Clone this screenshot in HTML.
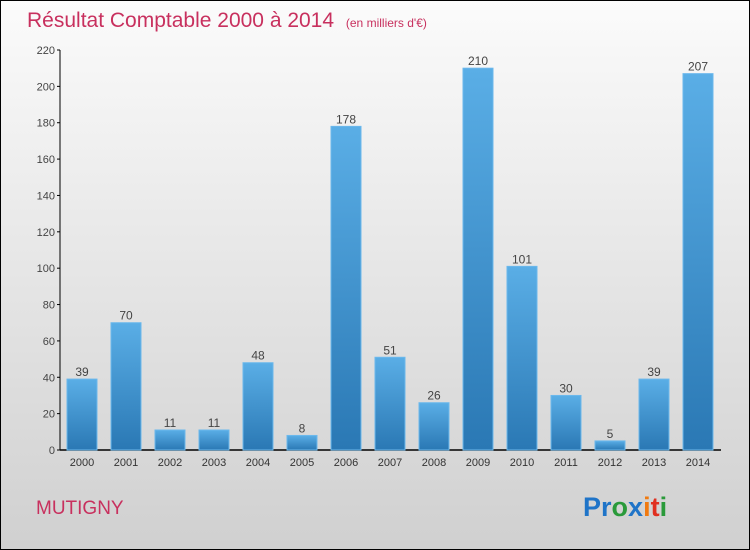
<!DOCTYPE html>
<html><head><meta charset="utf-8"><style>
body{margin:0}
#c{position:relative;width:748px;height:548px;border:1px solid #000;background:linear-gradient(#fbfbfb,#d0d0d0);font-family:"Liberation Sans",sans-serif;overflow:hidden}
</style></head><body>
<div id="c">
<svg width="748" height="548" id="s">
<defs><linearGradient id="g" x1="0" y1="0" x2="0" y2="1"><stop offset="0" stop-color="#5aaee6"/><stop offset="1" stop-color="#2a78b4"/></linearGradient></defs>
<text x="26" y="26" font-size="21" fill="#c8305e">Résultat Comptable 2000 à 2014 <tspan font-size="12" dx="6">(en milliers d'€)</tspan></text>
<text x="35" y="513" font-size="19" fill="#c8305e">MUTIGNY</text>
<text x="582" y="515" font-size="27" font-weight="bold"><tspan fill="#1f74c8">Pr</tspan><tspan fill="#2a9a3a">o</tspan><tspan fill="#1f74c8">x</tspan><tspan fill="#f07a10">i</tspan><tspan fill="#e03020">t</tspan><tspan fill="#2a9a3a">i</tspan></text>
<g id="ax"></g><g id="bars"></g>
</svg></div>
<script>
const years=["2000","2001","2002","2003","2004","2005","2006","2007","2008","2009","2010","2011","2012","2013","2014"];
const values=[39,70,11,11,48,8,178,51,26,210,101,30,5,39,207];
const ticks=[0,20,40,60,80,100,120,140,160,180,200,220];
const NS="http://www.w3.org/2000/svg";
const y=v=>449-v*400/220, x=i=>81+i*44;
function mk(t,a,p){const e=document.createElementNS(NS,t);for(const k in a)e.setAttribute(k,a[k]);p.appendChild(e);return e;}
const ax=document.getElementById('ax'),bg=document.getElementById('bars');
const yl=mk('line',{x1:59,y1:y(220),x2:59,y2:449,stroke:'#000'},ax);


const xl=mk('line',{x1:59,y1:449,x2:720,y2:449,stroke:'#000','stroke-width':1.5},ax);


ticks.forEach(t=>{mk('line',{x1:56,x2:59,y1:y(t),y2:y(t),stroke:'#000'},ax);
const tx=mk('text',{x:54,y:y(t)+4,'font-size':11,fill:'#444','text-anchor':'end'},ax);tx.textContent=t;

});
values.forEach((v,i)=>{const r=mk('rect',{x:x(i)-15,y:y(v),width:30,height:449-y(v),fill:'url(#g)',stroke:'#6bb8ec','stroke-width':1},bg);


const l=mk('text',{x:x(i),y:y(v)-3,'font-size':12,fill:'#444','text-anchor':'middle'},bg);l.textContent=v;


const xt=mk('text',{x:x(i),y:465,'font-size':11,fill:'#333','text-anchor':'middle'},bg);xt.textContent=years[i];

});
</script></body></html>
